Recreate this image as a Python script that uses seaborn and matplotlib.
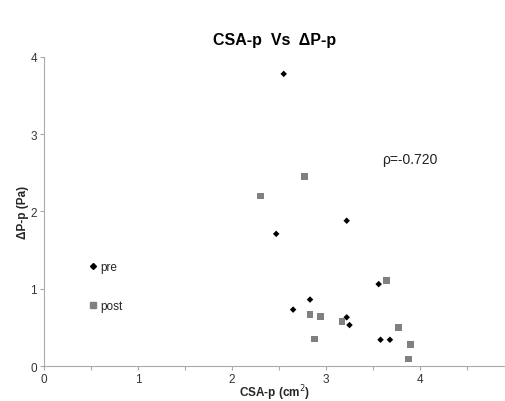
import matplotlib
matplotlib.use("Agg")
import matplotlib.pyplot as plt
import seaborn as sns
import pandas as pd
import numpy as np

pre_x = [2.55, 2.47, 3.22, 2.65, 2.83, 3.22, 3.25, 3.56, 3.58, 3.68]
pre_y = [3.78, 1.71, 1.88, 0.73, 0.86, 0.63, 0.53, 1.06, 0.34, 0.34]
post_x = [2.30, 2.77, 3.64, 2.83, 2.94, 2.88, 3.17, 3.77, 3.90, 3.88]
post_y = [2.20, 2.45, 1.11, 0.67, 0.64, 0.35, 0.575, 0.50, 0.28, 0.09]
x_ticks = [0, 1, 2, 3, 4]
y_ticks = [0, 1, 2, 3, 4]

sns.set_theme(style="white")
plt.rcParams['font.family'] = ['Liberation Sans', 'DejaVu Sans']

df = pd.DataFrame({
    "x": pre_x + post_x,
    "y": pre_y + post_y,
    "group": ["pre"] * len(pre_x) + ["post"] * len(post_x),
})

fig = plt.figure(figsize=(5.06, 4.02), dpi=100)
ax = fig.add_axes([0.087, 0.087, 0.913, 0.769])

sns.scatterplot(data=df, x="x", y="y", hue="group", style="group",
                palette={"pre": "#000000", "post": "#808080"},
                markers={"pre": "D", "post": "s"},
                size="group", sizes={"pre": 11, "post": 24},
                linewidth=0, ax=ax, legend=False)

ax.set_xlim(0, 4.915)
ax.set_ylim(0, 4)
half = np.arange(0, 5.0, 0.5)
ax.set_xticks(half)
ax.set_xticklabels([str(int(v)) if float(v).is_integer() else "" for v in half], fontsize=8.5, color="#333333")
ax.set_yticks(y_ticks)
ax.set_yticklabels([str(v) for v in y_ticks], fontsize=8.5, color="#333333")
ax.tick_params(axis="both", which="major", length=3, width=0.8, color="#aaaaaa", bottom=True, left=True, pad=2)

for s in ["top", "right"]:
    ax.spines[s].set_visible(False)
for s in ["left", "bottom"]:
    ax.spines[s].set_color("#aaaaaa")
    ax.spines[s].set_linewidth(0.8)

ax.set_xlabel("CSA-p (cm$^{2}$)", fontsize=8.5, fontweight="bold", labelpad=-2)
ax.set_ylabel("ΔP-p (Pa)", fontsize=8.5, fontweight="bold", labelpad=1)
ax.set_title("CSA-p  Vs  ΔP-p", fontsize=11.5, fontweight="bold", pad=9, color="#000000")

ax.text(3.6, 2.68, "ρ=-0.720", fontsize=10, color="#222222", va="center")

from matplotlib.lines import Line2D
handles = [Line2D([], [], marker="D", color="#000000", linestyle="none", markersize=3.0),
           Line2D([], [], marker="s", color="#808080", linestyle="none", markersize=4.5)]
leg = ax.legend(handles, ["pre", "post"], loc="upper left", bbox_to_anchor=(0.085, 0.36),
                frameon=False, fontsize=8.5, handlelength=0.6, handletextpad=0.3,
                labelspacing=2.3, borderpad=0)

fig.savefig("out.png", dpi=100)
